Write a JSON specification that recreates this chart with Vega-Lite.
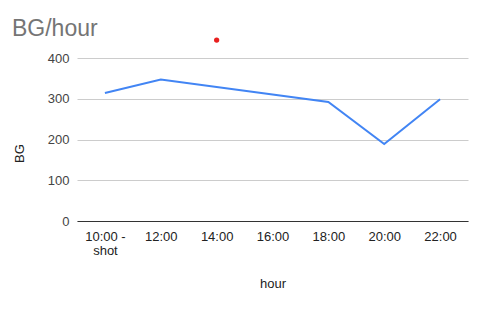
{
  "$schema": "https://vega.github.io/schema/vega-lite/v6.json",
  "autosize": "none",
  "width": 391,
  "height": 163,
  "padding": {"left": 77, "top": 58, "right": 15, "bottom": 88},
  "background": "white",
  "config": {
    "font": "Liberation Sans",
    "view": {"stroke": null}
  },
  "title": {
    "text": "BG/hour",
    "anchor": "start",
    "frame": "group",
    "dx": -65,
    "offset": -22,
    "baseline": "alphabetic",
    "fontSize": 23,
    "fontWeight": "normal",
    "color": "#757575",
    "font": "Liberation Sans"
  },
  "datasets": {
    "bg": [
      {"hour": "10:00 - shot", "BG": 314},
      {"hour": "12:00", "BG": 347},
      {"hour": "18:00", "BG": 292},
      {"hour": "20:00", "BG": 189},
      {"hour": "22:00", "BG": 299}
    ],
    "dot": [
      {"hour": "14:00", "BG": 444}
    ]
  },
  "layer": [
    {
      "data": {"name": "bg"},
      "mark": {"type": "line", "color": "#4285F4", "strokeWidth": 2},
      "encoding": {
        "x": {
          "field": "hour",
          "type": "ordinal",
          "scale": {"domain": ["10:00 - shot", "12:00", "14:00", "16:00", "18:00", "20:00", "22:00"], "padding": 0.5},
          "sort": null,
          "axis": {
            "title": "hour",
            "titleFontSize": 13,
            "titleFontWeight": "normal",
            "titleColor": "#222222",
            "titleY": 56,
            "labelAngle": 0,
            "labelFontSize": 13,
            "labelColor": "#222222",
            "labelPadding": 9,
            "labelLineHeight": 14,
            "labelExpr": "datum.value == '10:00 - shot' ? ['10:00 -', 'shot'] : datum.label",
            "ticks": false,
            "domainColor": "#333333",
            "domainWidth": 1,
            "grid": false
          }
        },
        "y": {
          "field": "BG",
          "type": "quantitative",
          "scale": {"domain": [0, 400], "nice": false},
          "axis": {
            "title": "BG",
            "titleFontSize": 13,
            "titleFontWeight": "normal",
            "titleColor": "#222222",
            "titleX": -58,
            "titleY": 95,
            "titleAngle": -90,
            "titleBaseline": "middle",
            "titleAlign": "center",
            "values": [0, 100, 200, 300, 400],
            "labelFontSize": 13,
            "labelColor": "#444444",
            "labelPadding": 8,
            "ticks": false,
            "domain": false,
            "gridColor": "#cccccc",
            "gridWidth": 1
          }
        }
      }
    },
    {
      "data": {"name": "dot"},
      "mark": {"type": "circle", "color": "#E8201F", "opacity": 1, "size": 28},
      "encoding": {
        "x": {"field": "hour", "type": "ordinal"},
        "y": {"field": "BG", "type": "quantitative"}
      }
    }
  ]
}
